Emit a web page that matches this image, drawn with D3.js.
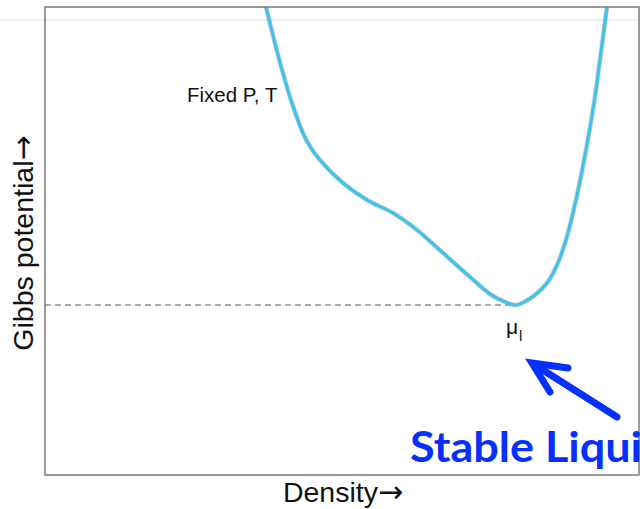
<!DOCTYPE html>
<html>
<head>
<meta charset="utf-8">
<script src="https://cdn.jsdelivr.net/npm/d3@7"></script>
<style>
  html, body { margin: 0; padding: 0; background: #fff; }
  svg { display: block; }
</style>
</head>
<body>
<svg id="chart" width="640" height="509"></svg>
<script>
// Gibbs potential vs density at fixed P, T (arbitrary units, 0–100)
const density = [37.21, 39.23, 41.41, 43.43, 44.78, 46.30, 50.17, 54.21, 58.59, 62.63, 67.00, 71.55, 74.92, 77.44, 79.29, 80.64, 82.49, 84.51, 86.20, 87.71, 89.39, 91.08, 92.51, 93.43, 94.61];
const gibbs   = [100.0, 89.74, 80.13, 73.08, 69.87, 67.31, 62.39, 58.76, 55.98, 52.35, 47.44, 42.31, 38.68, 36.97, 36.32, 36.97, 38.46, 41.03, 44.87, 50.21, 58.76, 69.44, 80.13, 88.68, 100.0];

const xLabel = "Density";
const yLabel = "Gibbs potential";
const arrowGlyph = "\u2192";
const curveLabel = "Fixed P, T";
const minLabel = "\u03bc";
const minSub = "l";
const calloutText = "Stable Liqui";

const svg = d3.select("#chart");
const W = 640, H = 509;
const plot = { left: 45, top: 7, right: 639, bottom: 475 };
const sans = "Liberation Sans, Arial, sans-serif";

const x = d3.scaleLinear().domain([0, 100]).range([plot.left, plot.right]);
const y = d3.scaleLinear().domain([0, 100]).range([plot.bottom, plot.top]);

// faint slide rule line across the top
svg.append("line")
  .attr("x1", 0).attr("x2", W).attr("y1", 20).attr("y2", 20)
  .attr("stroke", "#dcdcdc").attr("stroke-width", 1);

svg.append("defs").append("clipPath").attr("id", "plotClip")
  .append("rect")
  .attr("x", plot.left).attr("y", plot.top)
  .attr("width", plot.right - plot.left).attr("height", plot.bottom - plot.top);

// minimum of the curve
const pts = density.map((d, i) => ({ d, g: gibbs[i] }));
const minPt = pts.reduce((a, b) => (b.g < a.g ? b : a));

// dashed reference level at the minimum
svg.append("line")
  .attr("x1", x(0)).attr("x2", x(minPt.d))
  .attr("y1", y(minPt.g)).attr("y2", y(minPt.g))
  .attr("stroke", "#555").attr("stroke-width", 1)
  .attr("stroke-dasharray", "6,4");

// curve
const line = d3.line()
  .x(p => x(p.d)).y(p => y(p.g))
  .curve(d3.curveCatmullRom.alpha(0.5));

const cg = svg.append("g").attr("clip-path", "url(#plotClip)");
cg.append("path").datum(pts)
  .attr("d", line).attr("fill", "none")
  .attr("stroke", "#8a9aa3").attr("stroke-opacity", 0.55)
  .attr("stroke-width", 4.6).attr("stroke-linejoin", "round");
cg.append("path").datum(pts)
  .attr("d", line).attr("fill", "none")
  .attr("stroke", "#3cc4ec").attr("stroke-width", 3)
  .attr("stroke-linejoin", "round");

// frame
svg.append("rect")
  .attr("x", plot.left).attr("y", plot.top)
  .attr("width", plot.right - plot.left).attr("height", plot.bottom - plot.top)
  .attr("fill", "none").attr("stroke", "#7a7a7a").attr("stroke-width", 1.5);

// curve annotation
svg.append("text")
  .attr("x", 187).attr("y", 102)
  .attr("font-family", sans)
  .attr("font-size", 20.5).attr("fill", "#111")
  .text(curveLabel);

// μ_l label under the minimum
const mu = svg.append("text")
  .attr("x", x(minPt.d) - 10).attr("y", y(minPt.g) + 29)
  .attr("font-family", sans)
  .attr("font-size", 21).attr("fill", "#111");
mu.append("tspan").text(minLabel);
mu.append("tspan").attr("font-size", 15).attr("dy", 7).attr("dx", 1)
  .attr("fill", "#111").text(minSub);

// axis titles
const xt = svg.append("text")
  .attr("x", (plot.left + plot.right) / 2 + 1).attr("y", 502)
  .attr("text-anchor", "middle")
  .attr("font-family", sans)
  .attr("font-size", 28.5).attr("fill", "#111");
xt.append("tspan").text(xLabel);
xt.append("tspan").attr("font-family", "DejaVu Sans").attr("font-size", 30).text(arrowGlyph);

const yt = svg.append("text")
  .attr("transform", `translate(33, ${(plot.top + plot.bottom) / 2 + 2}) rotate(-90)`)
  .attr("text-anchor", "middle")
  .attr("font-family", sans)
  .attr("font-size", 28.5).attr("fill", "#111");
yt.append("tspan").text(yLabel);
yt.append("tspan").attr("font-family", "DejaVu Sans").attr("font-size", 30).text(arrowGlyph);

// callout arrow pointing at the minimum
const tipX = x(minPt.d) + 16, tipY = y(minPt.g) + 58;
const blue = "#0530ff";
svg.append("line")
  .attr("x1", tipX + 85).attr("y1", tipY + 54)
  .attr("x2", tipX + 3).attr("y2", tipY + 2)
  .attr("stroke", blue).attr("stroke-width", 7).attr("stroke-linecap", "round");
svg.append("path")
  .attr("d", `M${tipX + 36},${tipY + 5} L${tipX},${tipY} L${tipX + 18},${tipY + 29}`)
  .attr("fill", "none").attr("stroke", blue).attr("stroke-width", 7)
  .attr("stroke-linecap", "round").attr("stroke-linejoin", "miter");

svg.append("text")
  .attr("x", 410).attr("y", 462)
  .attr("font-family", "Lato, 'Open Sans', sans-serif")
  .attr("font-weight", "bold")
  .attr("font-size", 42).attr("fill", blue)
  .attr("textLength", 232).attr("lengthAdjust", "spacingAndGlyphs")
  .text(calloutText);
</script>
</body>
</html>
